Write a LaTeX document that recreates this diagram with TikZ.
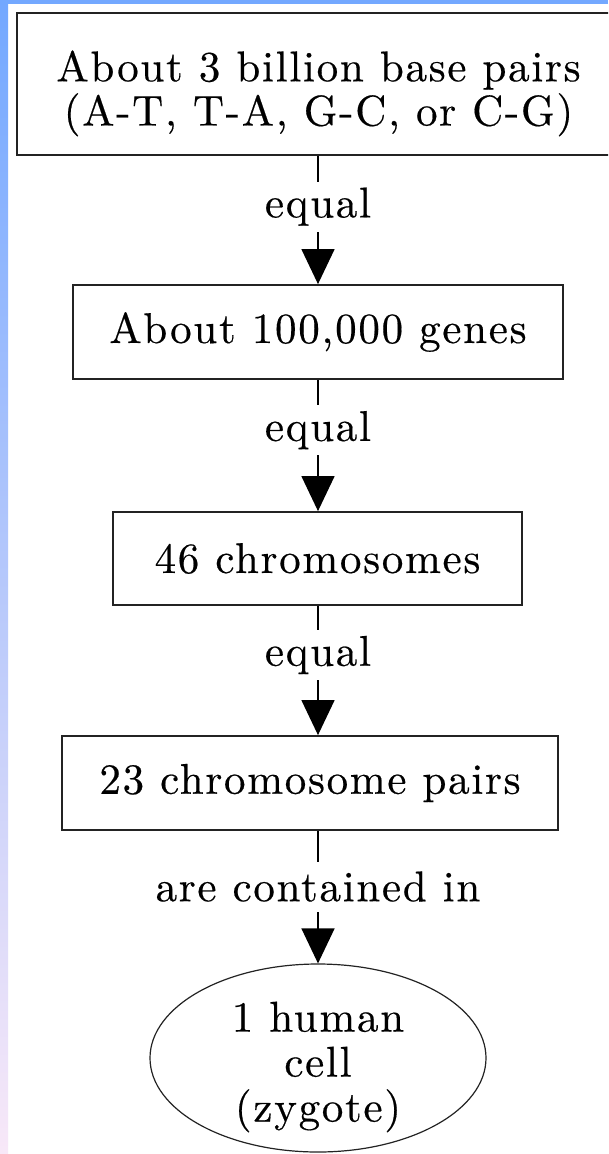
\documentclass[tikz,border=0pt]{standalone}
\usepackage{fontspec}
\setmainfont{lmroman10-regular.otf}[LetterSpace=4, FakeBold=0.4]
\usetikzlibrary{arrows.meta,shapes.geometric}
\definecolor{stripblue}{RGB}{115,168,255}
\definecolor{stripmid}{RGB}{170,202,246}
\definecolor{strippink}{RGB}{248,232,248}
\definecolor{edge}{RGB}{35,35,35}
\begin{document}
\begin{tikzpicture}[x=1pt,y=-1pt,
  box/.style={draw=edge, line width=1.8pt, inner sep=0pt, align=center,
              font=\fontsize{43}{40}\selectfont},
  conn/.style={draw=black, line width=1.4pt, -{Triangle[width=33pt,length=35pt]}},
  lab/.style={fill=white, inner sep=0pt, minimum height=50pt,
              font=\fontsize{43}{40}\selectfont},
  cellshape/.style={ellipse, draw=edge, line width=1.2pt, inner sep=0pt,
              minimum width=336pt, minimum height=188pt},
  celltext/.style={align=center, inner sep=0pt, font=\fontsize{43}{45}\selectfont}
]
\useasboundingbox (0,0) rectangle (608,1154);
\clip (0,0) rectangle (608,1154);
\fill[white] (0,0) rectangle (608,1154);
\fill[stripblue] (0,0) rectangle (608,4);
\shade[top color=stripblue, middle color=stripmid, bottom color=strippink] (0,0) rectangle (8,1154);

\node[box, minimum width=603pt, minimum height=142pt] (b1) at (318.5,84)
  {\raisebox{-10pt}[\height][\depth]{\begin{tabular}{@{}c@{}}About 3 billion base pairs\\(A-T, T-A, G-C, or C-G)\end{tabular}}};
\node[box, minimum width=490pt, minimum height=94pt] (b2) at (318,332) {About 100,000 genes};
\node[box, minimum width=409pt, minimum height=93pt] (b3) at (317.5,558.5) {46 chromosomes};
\node[box, minimum width=496pt, minimum height=94pt] (b4) at (310,783) {23 chromosome pairs};
\node[cellshape] (cell) at (318,1058) {};
\node[celltext] (celltxt) at (318,1067) {1 human\\cell\\(zygote)};

\draw[conn] (b1.south -| cell.north) -- node[lab, pos=0.396] {equal} (b2.north -| cell.north);
\draw[conn] (b2.south -| cell.north) -- node[lab, pos=0.383] {equal} (b3.north -| cell.north);
\draw[conn] (b3.south -| cell.north) -- node[lab, pos=0.38] {equal} (b4.north -| cell.north);
\draw[conn] (b4.south -| cell.north) -- node[lab, pos=0.42] {are contained in} (cell.north);
\end{tikzpicture}
\end{document}
